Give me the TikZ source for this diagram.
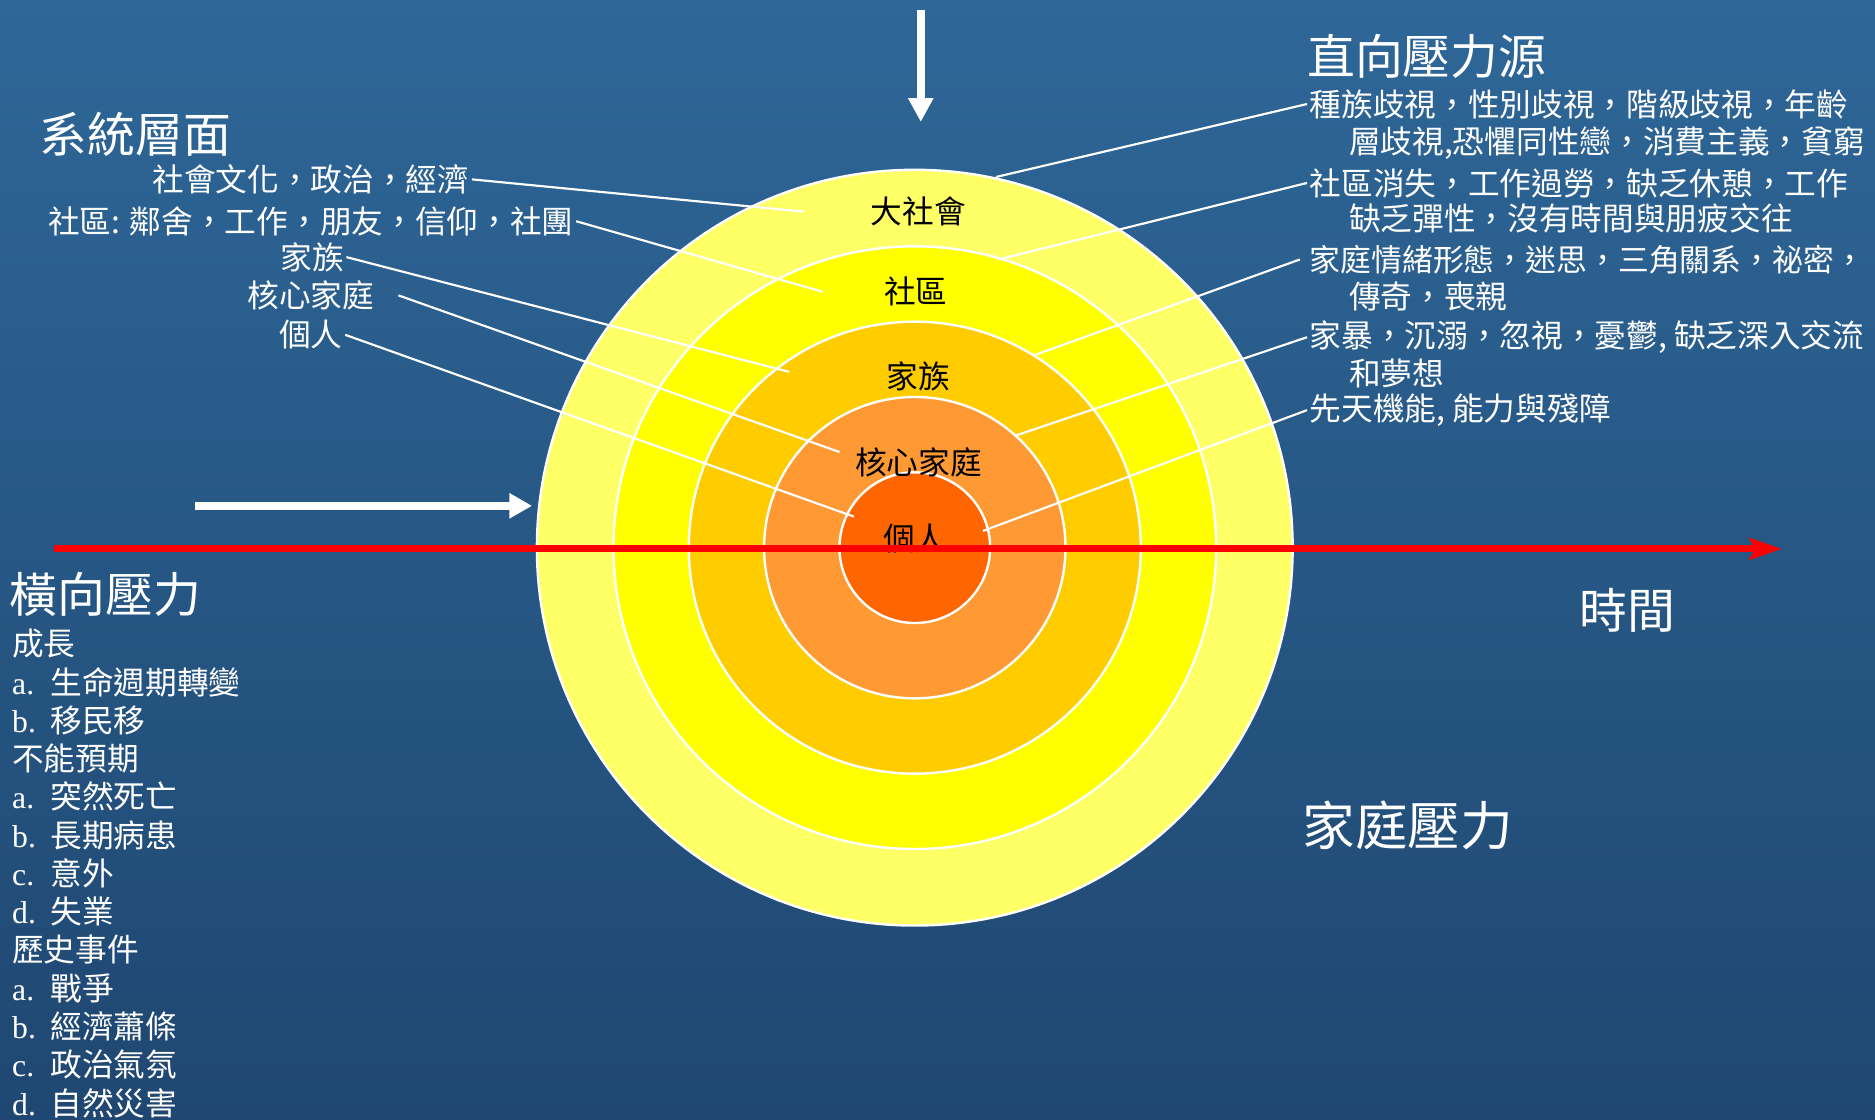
\documentclass[tikz,border=0pt]{standalone}
\usepackage{fontspec}
\setmainfont{Noto Sans CJK TC}
\newfontfamily\lat{Liberation Serif}
\usetikzlibrary{arrows.meta}
\definecolor{slideblue}{RGB}{46,103,152}
\definecolor{slidenavy}{RGB}{31,71,113}
\definecolor{ringsoc}{HTML}{FFFF66}
\definecolor{ringcom}{HTML}{FFFF00}
\definecolor{ringclan}{HTML}{FFCC00}
\definecolor{ringfam}{HTML}{FF9933}
\definecolor{ringself}{HTML}{FF6600}

\begin{document}
\begin{tikzpicture}[x=1pt,y=1pt,
    lbl/.style={text=white,font=\fontsize{26.5}{32}\selectfont,inner sep=2pt},
    ringlbl/.style={text=black,font=\fontsize{26.5}{32}\selectfont,inner sep=0pt},
    ttl/.style={text=white,font=\fontsize{40}{48}\selectfont,inner sep=0pt,anchor=west},
    ring/.style={draw=white,line width=2pt},
    link/.style={draw=white,line width=1.8pt}]
    \shade[top color=slideblue,bottom color=slidenavy] (0,0) rectangle (1568,-936);
    \useasboundingbox (0,0) rectangle (1568,-936);

    \coordinate (O) at (765,-458);
    \draw[ring,fill=ringsoc] (O) circle (316);
    \draw[ring,fill=ringcom] (O) circle (252);
    \draw[ring,fill=ringclan] (O) circle (189);
    \draw[ring,fill=ringfam] (O) circle (126);
    \draw[ring,fill=ringself] (O) circle (63);

    \node[ringlbl] (soc) at (768,-177) {大社會};
    \node[ringlbl] (com) at (766,-244) {社區};
    \node[ringlbl] (clan) at (768,-315) {家族};
    \node[ringlbl] (fam) at (768,-387) {核心家庭};
    \node[ringlbl] (self) at (765,-450) {個人};

    \node[ttl] (sys) at (33,-112) {系統層面};
    \node[lbl] (l1) at (260,-150) {社會文化，政治，經濟};
    \node[lbl] (l2) at (260,-185) {社區: 鄰舍，工作，朋友，信仰，社團};
    \node[lbl] (l3) at (261,-215) {家族};
    \node[lbl] (l4) at (260,-247) {核心家庭};
    \node[lbl] (l5) at (260,-280) {個人};

    \node[ttl] (vert) at (1093,-47) {直向壓力源};
    \node[lbl,anchor=west] (r1) at (1093,-87) {種族歧視，性別歧視，階級歧視，年齡};
    \node[lbl,anchor=west] (r1b) at (1126,-120) {層歧視,恐懼同性戀，消費主義，貧窮};
    \node[lbl,anchor=west] (r2) at (1093,-153) {社區消失，工作過勞，缺乏休憩，工作};
    \node[lbl,anchor=west] (r2b) at (1126,-183) {缺乏彈性，沒有時間與朋疲交往};
    \node[lbl,anchor=west,font=\fontsize{25.8}{32}\selectfont] (r3) at (1093,-217) {家庭情緒形態，迷思，三角關系，祕密，};
    \node[lbl,anchor=west] (r3b) at (1126,-248) {傳奇，喪親};
    \node[lbl,anchor=west] (r4) at (1093,-282) {家暴，沉溺，忽視，憂鬱, 缺乏深入交流};
    \node[lbl,anchor=west] (r4b) at (1126,-312) {和夢想};
    \node[lbl,anchor=west] (r5) at (1093,-343) {先天機能, 能力與殘障};

    \coordinate (p1) at (672,-177);
    \coordinate (p2) at (688,-244);
    \coordinate (p3) at (660,-311);
    \coordinate (p4) at (702,-378);
    \coordinate (p5) at (714,-432);
    \coordinate (q1) at (833,-148);
    \coordinate (q2) at (835,-217);
    \coordinate (q3) at (865,-297);
    \coordinate (q4) at (850,-364);
    \coordinate (q5) at (822,-444);

    \draw[link] (l1.east) -- (p1);
    \draw[link] (l2.east) -- (p2);
    \draw[link] (l3.east) -- (p3);
    \draw[link] ([xshift=18pt]l4.east) -- (p4);
    \draw[link] (l5.east) -- (p5);
    \draw[link] (r1.west) -- (q1);
    \draw[link] (r2.west) -- (q2);
    \draw[link] ([xshift=-6pt]r3.west) -- (q3);
    \draw[link] (r4.west) -- (q4);
    \draw[link] (r5.west) -- (q5);

    \coordinate (topS) at (770,-8);
    \coordinate (topE) at (770,-102);
    \draw[white,line width=6.5pt,-{Triangle[length=20pt,width=20pt]}] (topS) -- (topE);
    \coordinate (sideS) at (163,-423);
    \coordinate (sideE) at (445,-423);
    \draw[white,line width=6.5pt,-{Triangle[length=19pt,width=20pt]}] (sideS) -- (sideE);
    \coordinate (timeS) at (45,-459);
    \coordinate (timeE) at (1490,-459);
    \draw[red,line width=6pt,-{Stealth[length=27pt,width=18pt,inset=5pt]}] (timeS) -- (timeE);

    \node[ttl] (time) at (1321,-510) {時間};
    \node[ttl,font=\fontsize{44}{52}\selectfont] (famp) at (1089,-690) {家庭壓力};

    \node[ttl] (horiz) at (8,-497) {橫向壓力};
    \node[lbl,anchor=north west,align=left,inner sep=0pt] (list) at (10,-526) {成長\\
      \makebox[32pt][l]{\lat a.}生命週期轉變\\
      \makebox[32pt][l]{\lat b.}移民移\\
      不能預期\\
      \makebox[32pt][l]{\lat a.}突然死亡\\
      \makebox[32pt][l]{\lat b.}長期病患\\
      \makebox[32pt][l]{\lat c.}意外\\
      \makebox[32pt][l]{\lat d.}失業\\
      歷史事件\\
      \makebox[32pt][l]{\lat a.}戰爭\\
      \makebox[32pt][l]{\lat b.}經濟蕭條\\
      \makebox[32pt][l]{\lat c.}政治氣氛\\
      \makebox[32pt][l]{\lat d.}自然災害};
\end{tikzpicture}
\end{document}
